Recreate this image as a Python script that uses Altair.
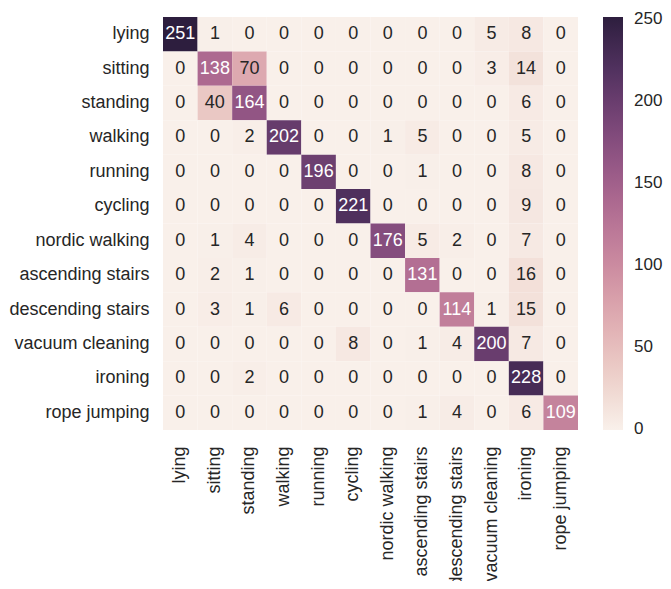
import altair as alt
import pandas as pd
import numpy as np

labels = ["lying", "sitting", "standing", "walking", "running", "cycling",
          "nordic walking", "ascending stairs", "descending stairs",
          "vacuum cleaning", "ironing", "rope jumping"]

matrix = [
    [251, 1, 0, 0, 0, 0, 0, 0, 0, 5, 8, 0],
    [0, 138, 70, 0, 0, 0, 0, 0, 0, 3, 14, 0],
    [0, 40, 164, 0, 0, 0, 0, 0, 0, 0, 6, 0],
    [0, 0, 2, 202, 0, 0, 1, 5, 0, 0, 5, 0],
    [0, 0, 0, 0, 196, 0, 0, 1, 0, 0, 8, 0],
    [0, 0, 0, 0, 0, 221, 0, 0, 0, 0, 9, 0],
    [0, 1, 4, 0, 0, 0, 176, 5, 2, 0, 7, 0],
    [0, 2, 1, 0, 0, 0, 0, 131, 0, 0, 16, 0],
    [0, 3, 1, 6, 0, 0, 0, 0, 114, 1, 15, 0],
    [0, 0, 0, 0, 0, 8, 0, 1, 4, 200, 7, 0],
    [0, 0, 2, 0, 0, 0, 0, 0, 0, 0, 228, 0],
    [0, 0, 0, 0, 0, 0, 0, 1, 4, 0, 6, 109],
]

legend_ticks = [0, 50, 100, 150, 200, 250]

rows = []
for i, true_lab in enumerate(labels):
    for j, pred_lab in enumerate(labels):
        rows.append({"true": true_lab, "pred": pred_lab, "count": matrix[i][j]})
df = pd.DataFrame(rows)

vmax = max(max(r) for r in matrix)


# seaborn default cubehelix colormap (light=.95, dark=.15)
def cubehelix(x, gamma=1.0, s=0.0, r=0.4, h=0.8):
    xg = x ** gamma
    a = h * xg * (1 - xg) / 2
    phi = 2 * np.pi * (s / 3 + r * x)
    R = xg + a * (-0.14861 * np.cos(phi) + 1.78277 * np.sin(phi))
    G = xg + a * (-0.29227 * np.cos(phi) - 0.90649 * np.sin(phi))
    B = xg + a * (1.97294 * np.cos(phi))
    return [min(max(c, 0), 1) for c in (R, G, B)]


stops = []
for t in np.linspace(0, 1, 17):
    rgb = cubehelix(0.95 - 0.8 * t)
    stops.append("#%02x%02x%02x" % tuple(int(round(c * 255)) for c in rgb))

FONT = "Liberation Sans"
TXT = "#262626"

base = alt.Chart(df).encode(
    x=alt.X("pred:N", sort=labels, title=None,
            axis=alt.Axis(labelAngle=-90, labelFontSize=18, labelColor=TXT,
                          labelFont=FONT, ticks=False, domain=False,
                          labelPadding=16)),
    y=alt.Y("true:N", sort=labels, title=None,
            axis=alt.Axis(labelFontSize=18, labelColor=TXT, labelFont=FONT,
                          ticks=False, domain=False, labelPadding=14)),
)

rects = base.mark_rect(strokeWidth=0).encode(
    color=alt.Color("count:Q",
                    scale=alt.Scale(domain=[-0.5, vmax], range=stops,
                                    interpolate="rgb"),
                    legend=alt.Legend(title=None, orient="right",
                                      direction="vertical",
                                      gradientLength=413,
                                      gradientThickness=20,
                                      offset=25, values=legend_ticks,
                                      labelFontSize=17, labelFont=FONT,
                                      labelColor=TXT, labelOffset=11,
                                      labelBaseline="middle",
                                      gradientStrokeWidth=0))
)

texts = base.mark_text(fontSize=18, font=FONT).encode(
    text="count:Q",
    color=alt.condition(alt.datum["count"] > 90, alt.value("#ffffff"),
                        alt.value(TXT)),
)

chart = alt.layer(rects, texts).properties(
    width=415, height=413,
    autosize=alt.AutoSizeParams(type="none"),
    padding={"left": 155, "top": 9, "right": 85, "bottom": 151},
).configure_view(stroke=None).configure_scale(bandPaddingInner=0)

chart.save("out.html", embed_options={"renderer": "svg", "actions": False})
